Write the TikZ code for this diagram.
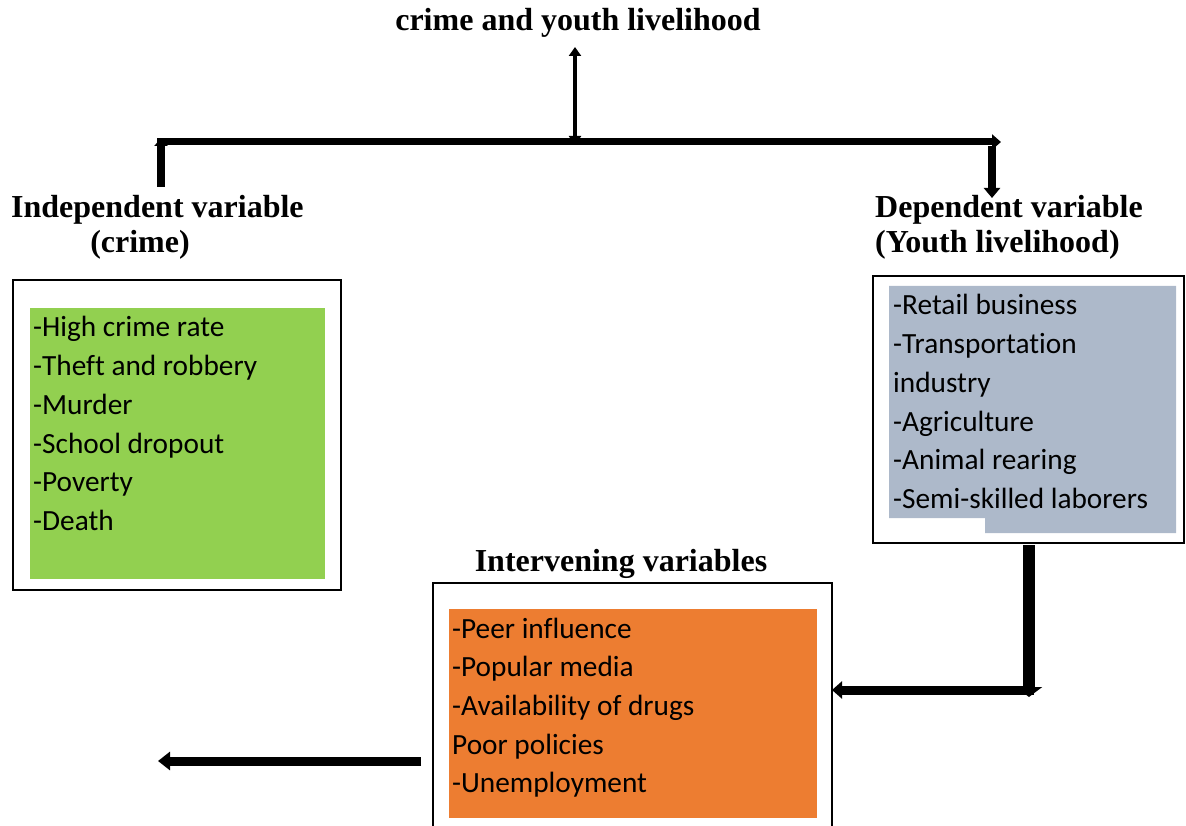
\documentclass[tikz,border=0pt]{standalone}
\usepackage{fontspec}
\setmainfont{Liberation Serif}
\newfontfamily\calfont{Carlito}[Ligatures=NoCommon]
\usetikzlibrary{arrows.meta}
\definecolor{boxgreen}{HTML}{92D050}
\definecolor{boxblue}{HTML}{ADB9CA}
\definecolor{boxorange}{HTML}{ED7D31}
\begin{document}
\begin{tikzpicture}[x=1pt,y=-1pt,
  heading/.style={font=\fontsize{32}{36}\selectfont\bfseries, inner sep=0},
  item/.style={font=\calfont\fontsize{29.3}{35}\selectfont, anchor=base west, inner sep=0},
  frame/.style={draw=black, line width=2.5pt, anchor=north west, inner sep=0, outer sep=0},
  panel/.style={anchor=north west, inner sep=0, outer sep=0, draw=none},
  conn/.style={draw=black, line cap=butt},
]
\useasboundingbox (0,0) rectangle (1186,826);
\clip (0,0) rectangle (1186,826);

% title and top connectors
\node[heading, anchor=base] (title) at (578,31) {crime and youth livelihood};
\coordinate (barL) at (157,142);
\coordinate (barR) at (1001,142);
\coordinate (barM) at (575,142);
\coordinate (topM) at (575,47);
\draw[conn, line width=7pt, -{Triangle[length=9pt,width=15pt]}] (barL) -- (barR);
\draw[conn, line width=3.5pt, {Triangle[length=9pt,width=12pt]}-{Triangle[length=9pt,width=12pt]}] (topM) -- ([yshift=-3pt]barM);

% headings
\node[heading, anchor=base west] (indep) at (11,218) {Independent variable};
\node[heading, anchor=base] (indep2) at (140,253) {(crime)};
\node[heading, anchor=base west] (dep) at (875,218) {Dependent variable};
\node[heading, anchor=base west] (dep2) at (875,253) {(Youth livelihood)};
\node[heading, anchor=base] (inter) at (621,571) {Intervening variables};

\coordinate (lup) at (161,187);
\draw[conn, line width=8pt, -{Triangle[length=8pt,width=13pt]}] (lup) -- (161,138);
\coordinate (rdn) at (992,146);
\draw[conn, line width=8pt, -{Triangle[length=10pt,width=16pt]}] (rdn) -- (992,198);

% left box
\node[frame, minimum width=328pt, minimum height=310pt] (lbox) at (13,280) {};
\node[panel, fill=boxgreen, minimum width=295pt, minimum height=271pt] (lpanel) at (30,308) {};
\foreach \t [count=\i] in {-High crime rate,-Theft and robbery,-Murder,-School dropout,-Poverty,-Death}
  \node[item] (l\i) at (33,{337+38.7*(\i-1)}) {\t};

% right box
\node[frame, minimum width=311pt, minimum height=267pt] (rbox) at (873,276) {};
\fill[boxblue] (889,286) -- (1176,286) -- (1176,533) -- (985,533) -- (985,518) -- (889,518) -- cycle;
\foreach \t [count=\i] in {-Retail business,-Transportation,industry,-Agriculture,-Animal rearing,-Semi-skilled laborers}
  \node[item] (r\i) at (893,{315+38.7*(\i-1)}) {\t};

% intervening box
\node[frame, minimum width=399pt, minimum height=270pt] (ibox) at (433,583) {};
\node[panel, fill=boxorange, minimum width=368pt, minimum height=209pt] (ipanel) at (449,609) {};
\foreach \t [count=\i] in {-Peer influence,-Popular media,-Availability of drugs,Poor policies,-Unemployment}
  \node[item] (i\i) at (452,{638+38.7*(\i-1)}) {\t};

% connectors from dependent box to intervening box
\coordinate (corner) at (1029,690);
\draw[conn, line width=12pt, -{Triangle[length=10pt,width=26pt]}] ([yshift=-2pt]rbox.south -| corner) -- ([yshift=-7pt]corner);
\draw[conn, line width=9pt, -{Triangle[length=10pt,width=17pt]}] ([xshift=5pt]corner) -- (ibox.east |- corner);

% outgoing arrow at bottom left
\coordinate (la) at (421,761);
\coordinate (lb) at (158,761);
\draw[conn, line width=9pt, -{Triangle[length=12pt,width=18pt]}] (la) -- (lb);
\end{tikzpicture}
\end{document}
